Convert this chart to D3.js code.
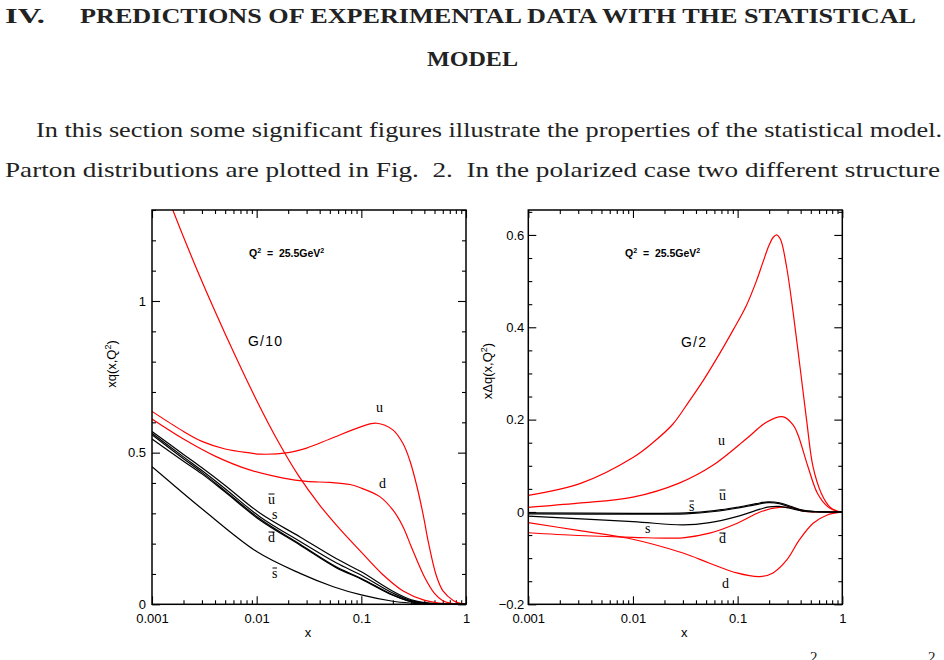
<!DOCTYPE html>
<html><head><meta charset="utf-8">
<script src="https://cdn.jsdelivr.net/npm/d3@7"></script>
<style>body{margin:0;background:#fff}svg{display:block}</style>
</head><body><svg id="c" width="944" height="660"></svg>
<script>
// ---------- Tick labels ----------
const xTickVals = [0.001, 0.01, 0.1, 1];
const xTickLabels = ["0.001", "0.01", "0.1", "1"];
const leftYTicks = [0, 0.5, 1];
const leftYLabels = ["0", "0.5", "1"];
const rightYTicks = [-0.2, 0, 0.2, 0.4, 0.6];
const rightYLabels = ["\u22120.2", "0", "0.2", "0.4", "0.6"];

// ---------- Data: left panel  xq(x,Q^2) ----------
const gLeftX = [0.00126, 0.00158, 0.00251, 0.00398, 0.00631, 0.01, 0.01585, 0.0251, 0.0398, 0.0631, 0.1, 0.158, 0.251, 0.398, 0.631, 1];
const gLeftY = [1.39, 1.30, 1.128, 0.968, 0.816, 0.672, 0.540, 0.424, 0.328, 0.246, 0.172, 0.100, 0.044, 0.014, 0.002, 0];

const uLeftX = [0.001, 0.002, 0.003, 0.005, 0.0086, 0.0108, 0.02, 0.03, 0.05, 0.1, 0.14, 0.2, 0.25, 0.29, 0.339, 0.39, 0.44, 0.52, 0.6, 0.76, 0.9, 1];
const uLeftY = [0.636, 0.570, 0.537, 0.512, 0.499, 0.495, 0.500, 0.515, 0.545, 0.586, 0.597, 0.575, 0.530, 0.475, 0.390, 0.295, 0.200, 0.095, 0.045, 0.012, 0.002, 0];

const dLeftX = [0.001, 0.002, 0.0041, 0.0086, 0.018, 0.03, 0.05, 0.078, 0.1, 0.15, 0.2, 0.25, 0.3, 0.4, 0.5, 0.6, 0.8, 1];
const dLeftY = [0.611, 0.545, 0.487, 0.443, 0.416, 0.405, 0.402, 0.395, 0.383, 0.355, 0.311, 0.256, 0.19, 0.091, 0.036, 0.012, 0.001, 0];

const seaLeftX = [0.001, 0.002, 0.003, 0.005, 0.0108, 0.026, 0.058, 0.1, 0.2, 0.3, 0.5, 0.7, 1];
const ubarLeftY = [0.570, 0.494, 0.450, 0.392, 0.300, 0.222, 0.150, 0.107, 0.043, 0.015, 0.002, 0.0002, 0];
const sLeftY    = [0.564, 0.486, 0.441, 0.381, 0.288, 0.207, 0.136, 0.096, 0.037, 0.012, 0.0015, 0.0001, 0];
const dbarLeftY = [0.559, 0.480, 0.435, 0.374, 0.281, 0.198, 0.123, 0.085, 0.031, 0.009, 0.001, 0.0001, 0];
const d2LeftY   = [0.545, 0.472, 0.430, 0.370, 0.277, 0.195, 0.120, 0.083, 0.030, 0.009, 0.001, 0.0001, 0];

const sbarLeftX = [0.001, 0.0017, 0.0031, 0.01, 0.026, 0.054, 0.1, 0.2, 0.3, 0.5, 1];
const sbarLeftY = [0.454, 0.386, 0.311, 0.174, 0.102, 0.058, 0.031, 0.010, 0.004, 0.0005, 0];

// ---------- Data: right panel  x Delta q(x,Q^2) ----------
const gRightX = [0.001, 0.00316, 0.01, 0.01585, 0.024, 0.034, 0.047, 0.063, 0.091, 0.12, 0.151, 0.174, 0.2, 0.219, 0.236, 0.257, 0.294, 0.34, 0.394, 0.456, 0.525, 0.631, 0.759, 0.891, 1];
const gRightY = [0.036, 0.062, 0.118, 0.152, 0.190, 0.238, 0.285, 0.332, 0.395, 0.445, 0.500, 0.540, 0.578, 0.595, 0.600, 0.590, 0.530, 0.430, 0.315, 0.199, 0.098, 0.040, 0.011, 0.002, 0];

const uRightX = [0.001, 0.003, 0.01, 0.028, 0.058, 0.122, 0.19, 0.273, 0.34, 0.38, 0.47, 0.58, 0.73, 0.9, 1];
const uRightY = [0.010, 0.019, 0.032, 0.063, 0.101, 0.159, 0.195, 0.206, 0.188, 0.165, 0.098, 0.040, 0.011, 0.001, 0];

const ubarRightX = [0.001, 0.01, 0.032, 0.06, 0.098, 0.15, 0.195, 0.25, 0.315, 0.42, 0.55, 0.7, 1];
const ubarRightY = [-0.002, -0.003, -0.002, 0.003, 0.010, 0.018, 0.022, 0.020, 0.013, 0.004, 0.001, 0, 0];
const sbarRightY = [-0.004, -0.005, -0.004, 0.001, 0.008, 0.016, 0.020, 0.018, 0.011, 0.003, 0.0005, 0, 0];

const sRightX = [0.001, 0.01, 0.03, 0.054, 0.098, 0.164, 0.2, 0.25, 0.315, 0.42, 0.6, 1];
const sRightY = [-0.009, -0.021, -0.028, -0.023, -0.010, 0.006, 0.011, 0.012, 0.008, 0.002, 0, 0];

const dbarRightX = [0.001, 0.003, 0.01, 0.03, 0.054, 0.098, 0.164, 0.25, 0.34, 0.42, 0.6, 1];
const dbarRightY = [-0.045, -0.051, -0.055, -0.056, -0.046, -0.025, 0.0, 0.010, 0.008, 0.002, 0, 0];

const dRightX = [0.001, 0.003, 0.009, 0.03, 0.054, 0.098, 0.163, 0.218, 0.295, 0.39, 0.53, 0.71, 1];
const dRightY = [-0.023, -0.040, -0.057, -0.089, -0.111, -0.132, -0.140, -0.132, -0.104, -0.060, -0.024, -0.007, 0];

// ---------- Page text ----------
const headingNum = "IV.";
const headingLine1 = "PREDICTIONS OF EXPERIMENTAL DATA WITH THE STATISTICAL";
const headingLine2 = "MODEL";
const paraLine1 = "In this section some significant figures illustrate the properties of the statistical model.";
const paraLine2 = "Parton distributions are plotted in Fig.\u00a0 2.\u00a0 In the polarized case two different structure";

const svg = d3.select('#c');
const RED = "#ff0000";
const serif = "'Liberation Serif', 'DejaVu Serif', serif";
const sans = "'Liberation Sans', Arial, sans-serif";

function txt(s, x, y, len, opts = {}) {
  const t = svg.append('text').attr('x', x).attr('y', y).text(s)
    .attr('font-family', serif).attr('font-size', opts.size || 22)
    .attr('fill', '#222');
  if (opts.bold) t.attr('font-weight', 'bold');
  if (len) t.attr('textLength', len).attr('lengthAdjust', 'spacingAndGlyphs');
  return t;
}
txt(headingNum, 5, 23, 40, {bold: true});
txt(headingLine1, 80, 23, 836, {bold: true});
txt(headingLine2, 427, 66, 91, {bold: true});
txt(paraLine1, 36, 137, 906);
txt(paraLine2, 5, 177, 935);
svg.append('text').attr('x', 810).attr('y', 662).text('2').attr('font-family', serif).attr('font-size', 15).attr('fill', '#222');
svg.append('text').attr('x', 928).attr('y', 662).text('2').attr('font-family', serif).attr('font-size', 15).attr('fill', '#222');

function minorRange(a, b, step, skipEvery) {
  const out = [];
  for (let i = Math.round(a / step); i <= Math.round(b / step); i++) {
    if (i % skipEvery !== 0) out.push(+(i * step).toFixed(4));
  }
  return out;
}
const xMinor = [];
[0.001, 0.01, 0.1].forEach(d => { for (let k = 2; k <= 9; k++) xMinor.push(d * k); });

function panel(cfg) {
  const x = d3.scaleLog().domain([0.001, 1]).range([cfg.x0, cfg.x1]);
  const y = d3.scaleLinear().domain(cfg.yDomain).range([cfg.yB, cfg.yT]);
  const g = svg.append('g');
  const id = 'clip' + cfg.name;
  svg.append('clipPath').attr('id', id).append('rect')
    .attr('x', cfg.x0).attr('y', cfg.yT).attr('width', cfg.x1 - cfg.x0).attr('height', cfg.yB - cfg.yT);

  const style = sel => {
    sel.select('.domain').remove();
    sel.selectAll('line').attr('stroke', '#000').attr('stroke-width', 1.1);
    sel.selectAll('text').attr('font-family', sans).attr('font-size', 13).attr('fill', '#000');
  };
  g.append('g').attr('transform', `translate(0,${cfg.yB})`)
    .call(d3.axisBottom(x).tickValues(xTickVals).tickSizeInner(-8).tickSizeOuter(0).tickPadding(9)
      .tickFormat((d, i) => xTickLabels[i])).call(style);
  g.append('g').attr('transform', `translate(0,${cfg.yB})`)
    .call(d3.axisBottom(x).tickValues(xMinor).tickSizeInner(-4).tickSizeOuter(0).tickFormat(() => '')).call(style);
  g.append('g').attr('transform', `translate(0,${cfg.yT})`)
    .call(d3.axisTop(x).tickValues(xTickVals).tickSizeInner(-8).tickSizeOuter(0).tickFormat(() => '')).call(style);
  g.append('g').attr('transform', `translate(0,${cfg.yT})`)
    .call(d3.axisTop(x).tickValues(xMinor).tickSizeInner(-4).tickSizeOuter(0).tickFormat(() => '')).call(style);
  g.append('g').attr('transform', `translate(${cfg.x0},0)`)
    .call(d3.axisLeft(y).tickValues(cfg.yTicks).tickSizeInner(-8).tickSizeOuter(0).tickPadding(cfg.yPad)
      .tickFormat((d, i) => cfg.yLabels[i])).call(style);
  g.append('g').attr('transform', `translate(${cfg.x0},0)`)
    .call(d3.axisLeft(y).tickValues(cfg.yMinor).tickSizeInner(-4).tickSizeOuter(0).tickFormat(() => '')).call(style);
  g.append('g').attr('transform', `translate(${cfg.x1},0)`)
    .call(d3.axisRight(y).tickValues(cfg.yTicks).tickSizeInner(-8).tickSizeOuter(0).tickFormat(() => '')).call(style);
  g.append('g').attr('transform', `translate(${cfg.x1},0)`)
    .call(d3.axisRight(y).tickValues(cfg.yMinor).tickSizeInner(-4).tickSizeOuter(0).tickFormat(() => '')).call(style);

  const line = d3.line().x(d => x(d[0])).y(d => y(d[1])).curve(d3.curveCatmullRom.alpha(0.5));
  const cg = g.append('g').attr('clip-path', `url(#${id})`);
  cfg.curves.forEach(c => {
    cg.append('path').datum(c.xs.map((v, i) => [v, c.ys[i]]))
      .attr('d', line).attr('fill', 'none').attr('stroke', c.color).attr('stroke-width', 1.2);
  });

  g.append('rect').attr('x', cfg.x0).attr('y', cfg.yT).attr('width', cfg.x1 - cfg.x0).attr('height', cfg.yB - cfg.yT)
    .attr('fill', 'none').attr('stroke', '#000').attr('stroke-width', 1.5);

  g.append('text').attr('x', (cfg.x0 + cfg.x1) / 2 - 1).attr('y', 637).attr('text-anchor', 'middle')
    .attr('font-family', sans).attr('font-size', 13).text('x');
  const yl = g.append('text').attr('transform', `translate(${cfg.ylX},${cfg.ylY}) rotate(-90)`)
    .attr('text-anchor', 'middle').attr('font-family', sans).attr('font-size', 13);
  yl.append('tspan').text(cfg.yTitle);
  yl.append('tspan').attr('font-size', 9).attr('dy', -5).text('2');
  yl.append('tspan').attr('dy', 5).text(')');

  const q = g.append('text').attr('x', cfg.qX).attr('y', 257).attr('font-family', sans)
    .attr('font-size', 10.5).attr('font-weight', 'bold');
  q.append('tspan').text('Q');
  q.append('tspan').attr('font-size', 7).attr('dy', -4).text('2');
  q.append('tspan').attr('dy', 4).text(' \u00a0=\u00a0 25.5GeV');
  q.append('tspan').attr('font-size', 7).attr('dy', -4).text('2');

  cfg.labels.forEach(l => {
    const t = g.append('text').attr('x', l.x).attr('y', l.y).text(l.t)
      .attr('font-family', l.sans ? sans : serif).attr('font-size', l.sans ? 14 : 14)
      .attr('letter-spacing', l.sans ? 1.2 : 0);
    if (l.bar) {
      const w = t.node().getComputedTextLength();
      g.append('line').attr('x1', l.x + 0.5).attr('x2', l.x + w - 0.5)
        .attr('y1', l.y - 10).attr('y2', l.y - 10).attr('stroke', '#000').attr('stroke-width', 1);
    }
  });
}

panel({
  name: 'L', x0: 152, x1: 466, yT: 210, yB: 604.3, yDomain: [0, 1.3],
  yTicks: leftYTicks, yLabels: leftYLabels, yMinor: minorRange(0, 1.3, 0.1, 5), yPad: 6,
  yTitle: 'xq(x,Q', ylX: 116, ylY: 364, qX: 249,
  curves: [
    {xs: gLeftX, ys: gLeftY, color: RED},
    {xs: uLeftX, ys: uLeftY, color: RED},
    {xs: dLeftX, ys: dLeftY, color: RED},
    {xs: seaLeftX, ys: ubarLeftY, color: '#000'},
    {xs: seaLeftX, ys: sLeftY, color: '#000'},
    {xs: seaLeftX, ys: dbarLeftY, color: '#000'},
    {xs: seaLeftX, ys: d2LeftY, color: '#000'},
    {xs: sbarLeftX, ys: sbarLeftY, color: '#000'}
  ],
  labels: [
    {t: 'G/10', x: 248, y: 346, sans: true},
    {t: 'u', x: 376, y: 412},
    {t: 'd', x: 379, y: 488},
    {t: 'u', x: 268, y: 504, bar: true},
    {t: 's', x: 272, y: 519},
    {t: 'd', x: 268, y: 542, bar: true},
    {t: 's', x: 272, y: 578, bar: true}
  ]
});

panel({
  name: 'R', x0: 528.3, x1: 842.3, yT: 210, yB: 604.3, yDomain: [-0.2, 0.654],
  yTicks: rightYTicks, yLabels: rightYLabels, yMinor: minorRange(-0.2, 0.65, 0.05, 4), yPad: 4,
  yTitle: 'x\u0394q(x,Q', ylX: 492, ylY: 371, qX: 625,
  curves: [
    {xs: gRightX, ys: gRightY, color: RED},
    {xs: uRightX, ys: uRightY, color: RED},
    {xs: dbarRightX, ys: dbarRightY, color: RED},
    {xs: dRightX, ys: dRightY, color: RED},
    {xs: ubarRightX, ys: ubarRightY, color: '#000'},
    {xs: ubarRightX, ys: sbarRightY, color: '#000'},
    {xs: sRightX, ys: sRightY, color: '#000'}
  ],
  labels: [
    {t: 'G/2', x: 681, y: 347, sans: true},
    {t: 'u', x: 718, y: 445},
    {t: 'u', x: 719, y: 500, bar: true},
    {t: 's', x: 689, y: 511, bar: true},
    {t: 's', x: 645, y: 533},
    {t: 'd', x: 719, y: 543, bar: true},
    {t: 'd', x: 722, y: 588}
  ]
});
</script></body></html>
